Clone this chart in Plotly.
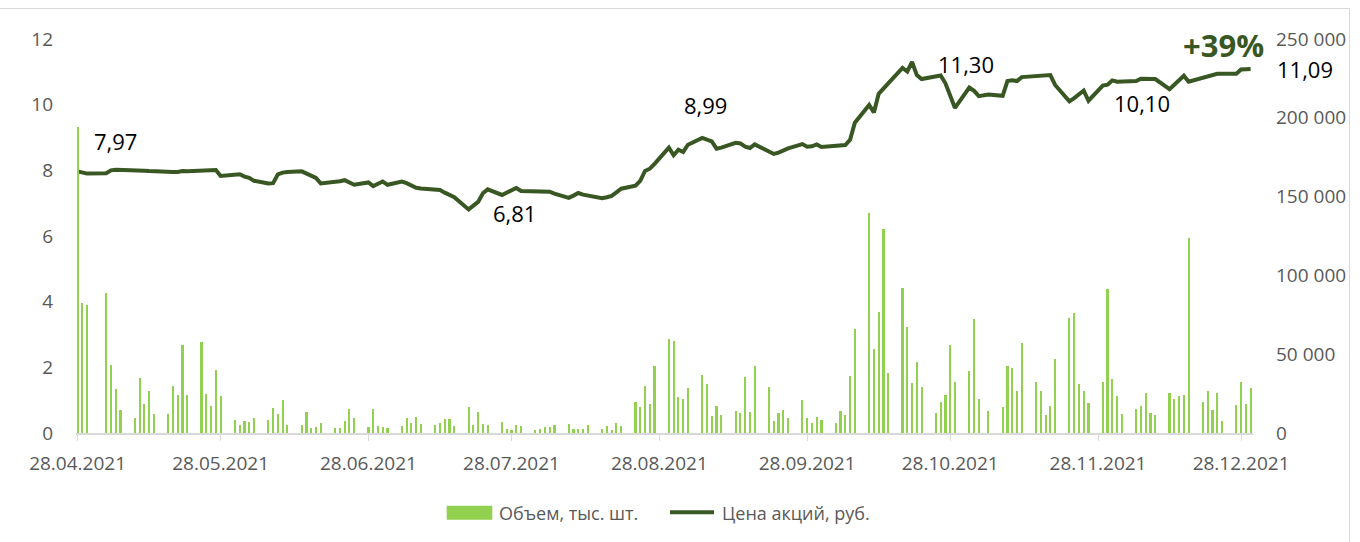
import pandas as pd
import plotly.graph_objects as go

# Trading calendar: weekdays from 28.04.2021 to 30.12.2021 minus exchange holidays
start_date = "2021-04-28"
end_date = "2021-12-30"
holidays = ["2021-05-03", "2021-11-04"]

# Daily trading volume, shares (grouped by trading week)
volume = [
    194000, 82500, 81200,
    88600, 43400, 28100, 14800,
    9500, 35100, 18600, 26400, 11800,
    12300, 29800, 24100, 55800, 24100,
    57700, 25000, 17100, 40000, 23700,
    8200, 5100, 7800, 7000, 9700,
    8500, 15900, 12300, 21200, 5300,
    5300, 13100, 3400, 3600, 6600,
    3000, 3400, 7400, 15000, 9500,
    4000, 15400, 4700, 3800, 3000,
    4700, 9500, 6300, 10400, 5700,
    5100, 6600, 9100, 8700, 4700,
    16700, 5300, 13500, 5700, 5300,
    7000, 2500, 1900, 5100, 4400,
    2100, 2500, 3600, 4000, 4900,
    5700, 2700, 2700, 2500, 4900,
    2500, 4400, 1700, 6300, 4400,
    19700, 16700, 30000, 18600, 42300,
    59600, 58400, 23100, 21600, 28800,
    37000, 31100, 11000, 17300, 11400,
    14200, 12900, 35700, 13500, 42300,
    29400, 7800, 12500, 14600, 9500,
    21200, 9300, 6600, 10200, 8500,
    6600, 14000, 11400, 36200, 65800,
    139400, 53500, 76800, 129200, 37900,
    92200, 67500, 31700, 45300, 29400,
    12900, 19900, 24300, 55800, 32100,
    39300, 72300, 21800, 14000,
    16700, 42700, 41500, 26900, 57300,
    32600, 26900, 11400, 17100, 47200,
    72800, 76400, 30900, 26400, 19000,
    32100, 91400, 34500, 23500, 12300,
    15400, 16900, 25200, 12700, 11400,
    25600, 21600, 23500, 24100, 123500,
    19900, 26900, 14600, 25400, 7400,
    18000, 32100, 18400, 28800,
]

# Closing share price, RUB (grouped by trading week)
price = [
    7.97, 7.92, 7.90,
    7.91, 8.00, 8.02, 8.02,
    8.01, 8.00, 7.99, 7.98, 7.97,
    7.96, 7.95, 7.95, 7.98, 7.97,
    7.98, 7.98, 7.98, 8.01, 7.83,
    7.85, 7.88, 7.81, 7.77, 7.68,
    7.60, 7.61, 7.88, 7.93, 7.95,
    7.97, 7.90, 7.84, 7.77, 7.60,
    7.64, 7.67, 7.70, 7.62, 7.56,
    7.63, 7.52, 7.59, 7.66, 7.56,
    7.66, 7.61, 7.53, 7.47, 7.45,
    7.42, 7.40, 7.32, 7.24, 7.18,
    6.81, 6.93, 7.04, 7.30, 7.42,
    7.25, 7.32, 7.40, 7.46, 7.37,
    7.36, 7.35, 7.36, 7.35, 7.29,
    7.16, 7.23, 7.31, 7.26, 7.23,
    7.15, 7.18, 7.22, 7.33, 7.44,
    7.53, 7.68, 7.98, 8.05, 8.20,
    8.69, 8.46, 8.63, 8.56, 8.78,
    8.99, 8.95, 8.88, 8.66, 8.69,
    8.84, 8.82, 8.72, 8.68, 8.79,
    8.58, 8.50, 8.54, 8.60, 8.67,
    8.80, 8.72, 8.73, 8.79, 8.71,
    8.74, 8.75, 8.77, 8.93, 9.45,
    9.99, 9.76, 10.33, 10.47, 10.65,
    11.12, 11.01, 11.30, 10.90, 10.78,
    10.85, 10.89, 10.65, 10.30, 9.90,
    10.52, 10.42, 10.26, 10.31,
    10.27, 10.72, 10.74, 10.72, 10.84,
    10.87, 10.86, 10.86, 10.90, 10.60,
    10.10, 10.20, 10.33, 10.43, 10.12,
    10.58, 10.61, 10.74, 10.70, 10.71,
    10.72, 10.79, 10.79, 10.79, 10.78,
    10.47, 10.60, 10.75, 10.88, 10.70,
    10.82, 10.86, 10.91, 10.94, 10.94,
    10.94, 11.07, 11.09, 11.09,
]

# Dates of the annotated price points and label offsets (px)
label_points = [
    ("2021-04-28", 38, 30),
    ("2021-07-19", 46, -4),
    ("2021-09-06", 3, 33),
    ("2021-10-20", 54, -2),
    ("2021-11-22", 73, -2),
    ("2021-12-30", 54, 0),
]

tick_dates = ["2021-04-28", "2021-05-28", "2021-06-28", "2021-07-28",
              "2021-08-28", "2021-09-28", "2021-10-28", "2021-11-28",
              "2021-12-28"]

series_names = ["Объем, тыс. шт.", "Цена акций, руб."]

BAR_GREEN = "#92D050"
LINE_GREEN = "#385723"
GREY_TEXT = "#595959"
FONT = "Open Sans"

dates = pd.bdate_range(start_date, end_date)
dates = dates[~dates.isin(pd.to_datetime(holidays))]
assert len(dates) == len(volume) == len(price)

W, H = 1360, 542
ML, MR, MT, MB = 76, 107, 39, 109
PW, PH = W - ML - MR, H - MT - MB


def px(x):
    return (x - ML) / PW


def py(y):
    return (H - MB - y) / PH


fig = go.Figure()
fig.add_trace(go.Bar(
    x=dates, y=volume, name=series_names[0], yaxis="y2",
    marker=dict(color=BAR_GREEN, line=dict(width=0)),
    width=0.45 * 86400000, showlegend=False,
))
fig.add_trace(go.Scatter(
    x=dates, y=price, name=series_names[1], mode="lines", yaxis="y",
    line=dict(color=LINE_GREEN, width=4, shape="linear"),
    showlegend=False,
))

price_by_date = dict(zip(dates.strftime("%Y-%m-%d"), price))
annotations = []
for d, dx, dy in label_points:
    v = price_by_date[d]
    annotations.append(dict(
        x=d, y=v, xref="x", yref="y", text=f"{v:.2f}".replace(".", ","),
        showarrow=False, xshift=dx, yshift=dy,
        font=dict(family=FONT, size=22, color="#000000"),
    ))

growth = (price[-1] / price[0] - 1) * 100
annotations.append(dict(
    x=dates[-1], y=price[-1], xref="x", yref="y",
    text=f"<b>+{growth:.0f}%</b>", showarrow=False, xshift=-27, yshift=24,
    font=dict(family=FONT, size=31, color=LINE_GREEN),
))

# Legend drawn below the plot
legend_y = py(512.7)
annotations.append(dict(x=px(497), y=legend_y, xref="paper", yref="paper",
                        xanchor="left", yanchor="middle", showarrow=False,
                        text=series_names[0],
                        font=dict(family=FONT, size=18, color=GREY_TEXT)))
annotations.append(dict(x=px(720), y=legend_y, xref="paper", yref="paper",
                        xanchor="left", yanchor="middle", showarrow=False,
                        text=series_names[1],
                        font=dict(family=FONT, size=18, color=GREY_TEXT)))

shapes = [
    dict(type="rect", xref="paper", yref="paper",
         x0=px(446.7), x1=px(492.3), y0=py(519.7), y1=py(505.7),
         fillcolor=BAR_GREEN, line=dict(width=0)),
    dict(type="line", xref="paper", yref="paper",
         x0=px(670), x1=px(714), y0=py(512.3), y1=py(512.3),
         line=dict(color=LINE_GREEN, width=4)),
    # outer frame lines
    dict(type="line", xref="paper", yref="paper",
         x0=px(0), x1=px(1349.5), y0=py(8.5), y1=py(8.5),
         line=dict(color="#D9D9D9", width=1)),
    dict(type="line", xref="paper", yref="paper",
         x0=px(1349.5), x1=px(1349.5), y0=py(8.5), y1=py(542),
         line=dict(color="#D9D9D9", width=1)),
]

fig.update_layout(
    width=W, height=H,
    margin=dict(l=ML, r=MR, t=MT, b=MB, pad=0),
    paper_bgcolor="white", plot_bgcolor="white",
    separators=", ",
    bargap=0,
    font=dict(family=FONT, size=19, color=GREY_TEXT),
    xaxis=dict(
        type="date",
        range=["2021-04-27 16:00", "2021-12-30 12:00"],
        tickvals=tick_dates, tickformat="%d.%m.%Y",
        ticks="outside", ticklen=6, tickcolor="#D9D9D9", tickwidth=1,
        showline=True, linecolor="#D9D9D9", linewidth=1.5,
        showgrid=False, zeroline=False,
        tickfont=dict(family=FONT, size=19, color=GREY_TEXT),
        ticklabelstandoff=6,
    ),
    yaxis=dict(
        range=[0, 12], tickvals=[0, 2, 4, 6, 8, 10, 12],
        showgrid=False, zeroline=False, showline=False, ticks="",
        tickfont=dict(family=FONT, size=19, color=GREY_TEXT),
        ticklabelstandoff=22,
    ),
    yaxis2=dict(
        range=[0, 250000], overlaying="y", side="right",
        tickvals=[0, 50000, 100000, 150000, 200000, 250000],
        tickformat=",d",
        showgrid=False, zeroline=False, showline=False, ticks="",
        tickfont=dict(family=FONT, size=19, color=GREY_TEXT),
        ticklabelstandoff=22,
    ),
    annotations=annotations,
    shapes=shapes,
    showlegend=False,
)

fig.write_html("out.html")
